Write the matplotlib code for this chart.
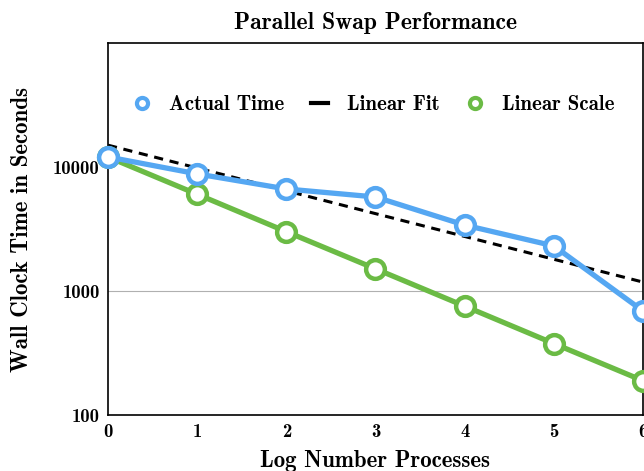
import matplotlib
matplotlib.use('Agg')
import matplotlib.pyplot as plt
from matplotlib.lines import Line2D

plt.rcParams['font.family'] = 'cmb10'
plt.rcParams['axes.unicode_minus'] = False

# data
procs = [0, 1, 2, 3, 4, 5, 6]
actual = [12050, 8800, 6650, 5730, 3400, 2310, 690]
linear_scale = [12050, 6030, 3010, 1510, 755, 377, 189]
fit_x = [0, 6]
fit_y = [15000, 1180]
yticks = [100, 1000, 10000]
ytick_labels = ['100', '1000', '10000']

blue = '#55a7f2'
green = '#6bbb45'

fig = plt.figure(figsize=(6.44, 4.71), dpi=100)
ax = fig.add_axes([0.1677, 0.1189, 0.8307, 0.7898])

ax.axhline(1000, color='#b0b0b0', lw=0.8, zorder=1)
ax.plot(fit_x, fit_y, color='black', ls=(0, (3, 2.2)), lw=2.2, zorder=2)
ax.plot(procs, linear_scale, color=green, lw=3.8, marker='o', ms=13.5,
        mfc='white', mec=green, mew=3.2, zorder=3, clip_on=False)
ax.plot(procs, actual, color=blue, lw=3.8, marker='o', ms=13.5,
        mfc='white', mec=blue, mew=3.2, zorder=4, clip_on=False)

ax.set_yscale('log')
ax.set_ylim(100, 100000)
ax.set_xlim(0, 6)
ax.set_yticks(yticks)
ax.set_yticklabels(ytick_labels)
ax.minorticks_off()
ax.set_xticks(procs)
ax.set_xticklabels([str(p) for p in procs])
ax.tick_params(length=0, labelsize=13.5, pad=6)

for s in ax.spines.values():
    s.set_linewidth(1.2)

ax.set_xlabel('Log Number Processes', fontsize=16.5, labelpad=6)
ax.set_ylabel('Wall Clock Time in Seconds', fontsize=16.5, labelpad=14)
ax.set_title('Parallel Swap Performance', fontsize=17, pad=10)

handles = [
    Line2D([], [], ls='none', marker='o', ms=8, mfc='white', mec=blue, mew=3),
    Line2D([], [], color='black', lw=3),
    Line2D([], [], ls='none', marker='o', ms=8, mfc='white', mec=green, mew=3),
]
ax.legend(handles, ['Actual Time', 'Linear Fit', 'Linear Scale'], ncol=3,
          loc='center', bbox_to_anchor=(0.497, 0.835), frameon=False,
          fontsize=15, handlelength=0.8, columnspacing=1.3, handletextpad=0.9)

plt.savefig('out.png', dpi=100)
